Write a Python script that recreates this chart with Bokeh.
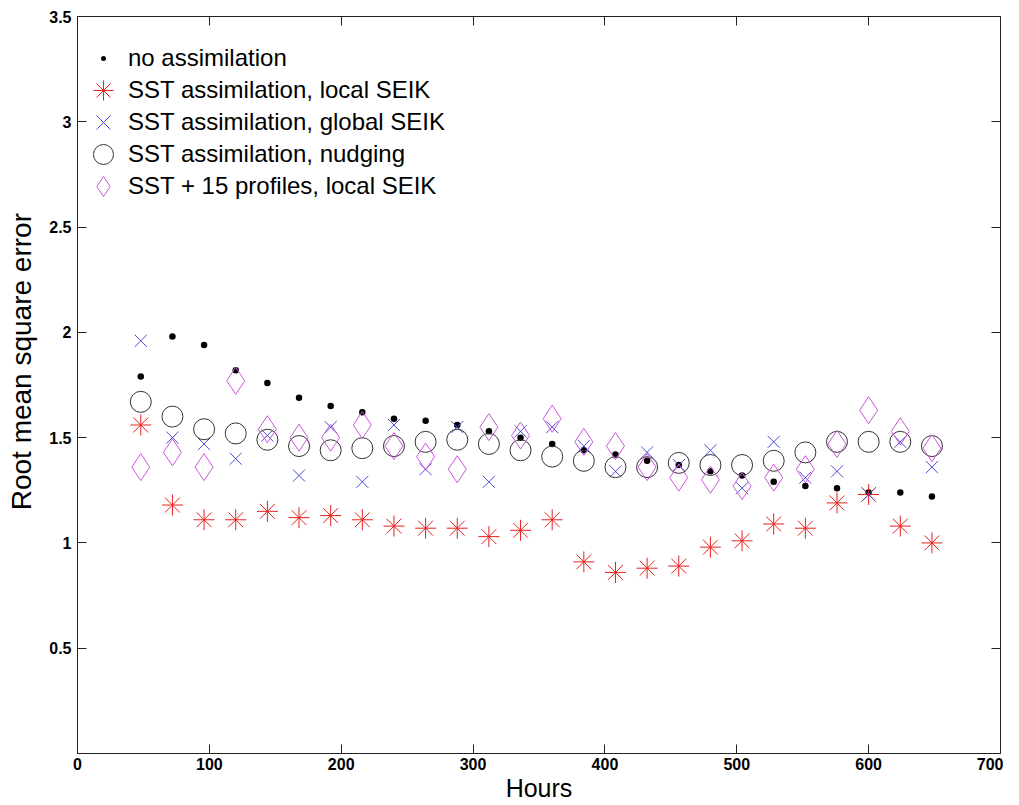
from bokeh.plotting import figure
from bokeh.models import (Range1d, LinearAxis, FixedTicker, Legend, LegendItem,
                          CustomJSTickFormatter, ColumnDataSource)
from bokeh.embed import file_html
from bokeh.resources import INLINE

# ---- data ----
hours = [48, 72, 96, 120, 144, 168, 192, 216, 240, 264, 288, 312, 336,
         360, 384, 408, 432, 456, 480, 504, 528, 552, 576, 600, 624, 648]

no_assimilation = [1.79, 1.98, 1.94, 1.82, 1.76, 1.69, 1.65, 1.62, 1.59, 1.58,
                   1.56, 1.53, 1.50, 1.47, 1.44, 1.42, 1.39, 1.37, 1.34, 1.32,
                   1.29, 1.27, 1.26, 1.24, 1.24, 1.22]
sst_local_seik = [1.56, 1.18, 1.11, 1.11, 1.15, 1.12, 1.13, 1.11, 1.08, 1.07,
                  1.07, 1.03, 1.06, 1.11, 0.91, 0.86, 0.88, 0.89, 0.98, 1.01,
                  1.09, 1.07, 1.19, 1.23, 1.08, 1.00]
sst_global_seik = [1.96, 1.50, 1.47, 1.40, 1.51, 1.32, 1.55, 1.29, 1.56, 1.35,
                   1.55, 1.29, 1.53, 1.55, 1.46, 1.34, 1.43, 1.37, 1.44, 1.26,
                   1.48, 1.31, 1.34, 1.23, 1.48, 1.36]
sst_nudging = [1.67, 1.60, 1.54, 1.52, 1.49, 1.46, 1.44, 1.45, 1.46, 1.48,
               1.49, 1.47, 1.44, 1.41, 1.39, 1.36, 1.36, 1.38, 1.37, 1.37,
               1.39, 1.43, 1.48, 1.48, 1.48, 1.46]
sst_profiles_local = [1.36, 1.43, 1.36, 1.77, 1.54, 1.50, 1.50, 1.56, 1.46, 1.41,
                      1.35, 1.55, 1.51, 1.59, 1.48, 1.46, 1.36, 1.31, 1.30, 1.27,
                      1.31, 1.35, 1.47, 1.63, 1.53, 1.45]

series_labels = ["no assimilation",
                 "SST assimilation, local SEIK",
                 "SST assimilation, global SEIK",
                 "SST assimilation, nudging",
                 "SST + 15 profiles, local SEIK"]

x_ticks = [0, 100, 200, 300, 400, 500, 600, 700]
y_ticks = [0.5, 1, 1.5, 2, 2.5, 3, 3.5]

FONT = "Liberation Sans"
AXCOL = "#222222"
BLUE = "#4b4bd6"

p = figure(width=1003, height=804, output_backend="svg", toolbar_location=None,
           x_range=Range1d(0, 700), y_range=Range1d(0, 3.5),
           min_border_left=77, min_border_right=3, min_border_top=16,
           min_border_bottom=0)
p.xgrid.visible = False
p.ygrid.visible = False
p.outline_line_color = AXCOL
p.background_fill_color = "white"
p.border_fill_color = "white"

fmt = CustomJSTickFormatter(code="return String(tick)")
blank = CustomJSTickFormatter(code="return ''")

xa = p.xaxis[0]
xa.ticker = FixedTicker(ticks=x_ticks)
xa.formatter = fmt
xa.axis_label = "Hours"
ya = p.yaxis[0]
ya.ticker = FixedTicker(ticks=y_ticks)
ya.formatter = fmt
# leading no-break spaces move the (centred) label a little upwards, as in the reference
ya.axis_label = "\u00a0" * 6 + "Root mean square error"

for ax in (xa, ya):
    ax.major_tick_in = 9
    ax.major_tick_out = 0
    ax.minor_tick_line_color = None
    ax.axis_line_color = AXCOL
    ax.major_tick_line_color = AXCOL
    ax.major_label_text_font = FONT
    ax.major_label_text_font_size = "16px"
    ax.major_label_text_font_style = "bold"
    ax.major_label_text_color = "black"
    ax.axis_label_text_font = FONT
    ax.axis_label_text_font_style = "normal"
    ax.axis_label_text_color = "black"

xa.major_label_standoff = 4
xa.axis_label_standoff = 1
xa.axis_label_text_font_size = "25px"
ya.major_label_standoff = 6
ya.axis_label_standoff = 9
ya.axis_label_text_font_size = "28px"

top = LinearAxis(ticker=FixedTicker(ticks=x_ticks), formatter=blank,
                 major_label_standoff=0, major_tick_in=9, major_tick_out=0,
                 minor_tick_line_color=None, axis_line_color=AXCOL,
                 major_tick_line_color=AXCOL)
right = LinearAxis(ticker=FixedTicker(ticks=y_ticks), formatter=blank,
                   major_label_standoff=0, major_tick_in=9, major_tick_out=0,
                   minor_tick_line_color=None, axis_line_color=AXCOL,
                   major_tick_line_color=AXCOL)
p.add_layout(top, "above")
p.add_layout(right, "right")

src_global = ColumnDataSource(data=dict(x=hours, y=sst_global_seik,
                                        c=[BLUE] * len(hours)))

r0 = p.scatter(hours, no_assimilation, marker="dot", size=26,
               line_color="black", fill_color="black")
r1 = p.scatter(hours, sst_local_seik, marker="asterisk", size=21,
               line_color="#e8201e", line_width=1)
r2 = p.scatter("x", "y", source=src_global, marker="x", size=17,
               line_color="c", line_width=1)
r3 = p.scatter(hours, sst_nudging, marker="circle", size=21,
               fill_color=None, line_color="#333333", line_width=1)
r4 = p.scatter(hours, sst_profiles_local, marker="diamond", size=27,
               fill_color=None, line_color="#cc55dd", line_width=1)

# one single-item legend per row, so rows can be closer than the glyph box
renderers = [r0, r1, r2, r3, r4]
ROW = 32
TOP_BOTTOM = 670  # bottom of the first row's box, px above the frame bottom
for i, (lab, r) in enumerate(zip(series_labels, renderers)):
    lg = Legend(items=[LegendItem(label=lab, renderers=[r])],
                location=(1, TOP_BOTTOM - ROW * i),
                glyph_width=50, glyph_height=50, label_standoff=0,
                padding=0, margin=0, border_line_color=None,
                background_fill_alpha=0, label_text_font=FONT,
                label_text_font_size="24px", label_text_color="black")
    p.add_layout(lg, "center")

open("out.html", "w").write(file_html(p, INLINE))
